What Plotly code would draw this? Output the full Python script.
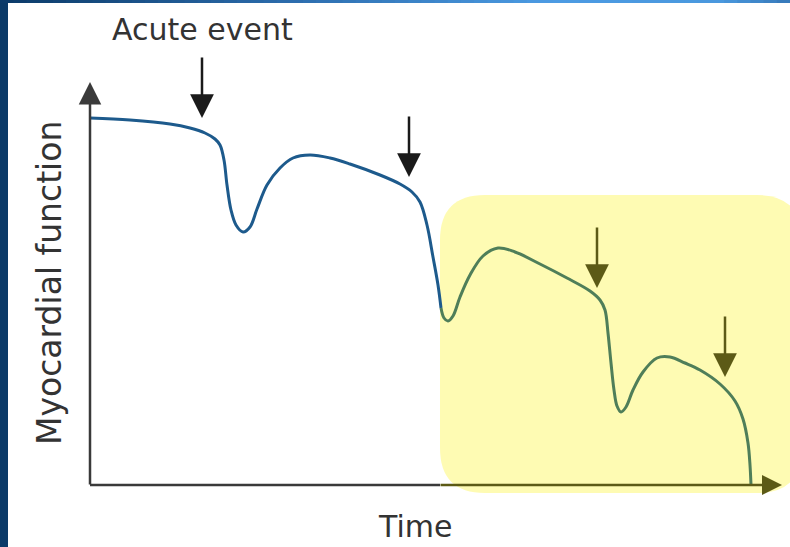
import plotly.graph_objects as go

# ---- data (time units, function units; origin at the axes corner) ----
time = [0, 40, 80, 100, 115, 125, 130, 134, 137, 141, 146, 153, 160, 167, 177, 190,
        203, 220, 240, 260, 290, 310, 322, 330, 337, 343, 348, 351,
        354, 358, 363, 370, 380, 393, 408, 425, 450, 477, 500, 510, 515, 518, 521,
        524, 527, 531, 536, 543, 553, 567, 580, 595, 610, 630, 645, 653, 658, 660, 661]
function = [367, 365, 361, 357, 352, 346, 340, 325, 300, 275, 260, 253, 258, 276, 300, 317,
            327, 330, 327, 321, 310, 301, 293, 283, 260, 228, 200, 177,
            167, 164, 169, 188, 210, 229, 237, 233, 221, 207, 194, 185, 175, 152, 122,
            95, 79, 73, 78, 95, 113, 127, 128, 122, 115, 101, 84, 66, 42, 20, 0]
split_time = 351          # where the highlighted (late) phase begins

event_time = [112, 319, 507, 635]
event_level = [367, 308, 197, 108]
event_labels = ["Acute event", "", "", ""]

x_label = "Time"
y_label = "Myocardial function"

# ---- styling ----
BLUE = "#1d5a8c"
GREEN = "#4f7e59"
AXIS = "#3a3a3a"
OLIVE = "#5c5a16"
YELLOW = "#fefbb3"
TEXT = "#333333"
FONT = "DejaVu Sans, Liberation Sans, Arial, sans-serif"

k = time.index(split_time)
fig = go.Figure()
fig.add_trace(go.Scatter(x=time[:k + 1], y=function[:k + 1], mode="lines",
                         line=dict(color=BLUE, width=3, shape="spline", smoothing=1.0),
                         hoverinfo="skip", showlegend=False))
fig.add_trace(go.Scatter(x=time[k:], y=function[k:], mode="lines",
                         line=dict(color=GREEN, width=3, shape="spline", smoothing=1.0),
                         hoverinfo="skip", showlegend=False))

shapes = []
# highlighted late-phase box (rounded)
x0, x1, y0, y1, r = split_time - 1, 712, -8, 290, 45
path = (f"M{x0+r},{y1} L{x1-r},{y1} Q{x1},{y1} {x1},{y1-r} L{x1},{y0+r} "
        f"Q{x1},{y0} {x1-r},{y0} L{x0+r},{y0} Q{x0},{y0} {x0},{y0+r} "
        f"L{x0},{y1-r} Q{x0},{y1} {x0+r},{y1} Z")
shapes.append(dict(type="path", path=path, xref="x", yref="y", layer="below",
                   fillcolor=YELLOW, line=dict(width=0)))

# frame decorations: left navy band, top gradient band
shapes.append(dict(type="rect", xref="paper", yref="paper", x0=0, x1=8 / 790, y0=0, y1=1,
                   fillcolor="#0b3a68", line=dict(width=0), layer="above"))
stops = [(0, (11, 58, 104)), (300, (45, 110, 175)), (550, (76, 155, 227)),
         (720, (74, 152, 222)), (790, (54, 120, 184))]
nseg = 60
for i in range(nseg):
    xa = 790 * i / nseg
    xb = 790 * (i + 1) / nseg
    xm = (xa + xb) / 2
    for (pa, ca), (pb, cb) in zip(stops[:-1], stops[1:]):
        if pa <= xm <= pb:
            t = (xm - pa) / (pb - pa)
            c = tuple(int(round(ca[j] + (cb[j] - ca[j]) * t)) for j in range(3))
            break
    shapes.append(dict(type="rect", xref="paper", yref="paper", x0=xa / 790, x1=xb / 790 + 0.002,
                       y0=1 - 3 / 547, y1=1, fillcolor=f"rgb{c}", line=dict(width=0), layer="above"))

# x axis baseline (grey part)
shapes.append(dict(type="line", xref="x", yref="y", x0=0, x1=split_time - 1, y0=0, y1=0,
                   line=dict(color=AXIS, width=2.5)))

annotations = []
# y axis with arrow
annotations.append(dict(x=0, y=403, ax=0, ay=-1, axref="x", ayref="y", xref="x", yref="y",
                        showarrow=True, arrowhead=2, arrowsize=1.8, arrowwidth=2.5,
                        arrowcolor=AXIS, text=""))
# x axis (olive part) with arrow
annotations.append(dict(x=692, y=0, ax=split_time - 2, ay=0, axref="x", ayref="y", xref="x", yref="y",
                        showarrow=True, arrowhead=2, arrowsize=1.6, arrowwidth=2.5,
                        arrowcolor=OLIVE, text=""))
# event arrows
for t, lv in zip(event_time, event_level):
    col = "#1a1a1a" if t < split_time else OLIVE
    annotations.append(dict(x=t, y=lv, ax=t, ay=lv + 62, axref="x", ayref="y", xref="x", yref="y",
                            showarrow=True, arrowhead=2, arrowsize=1.9, arrowwidth=2.5,
                            arrowcolor=col, text=""))
for t, lv, lab in zip(event_time, event_level, event_labels):
    if lab:
        annotations.append(dict(x=t, y=456, xref="x", yref="y", text=lab, showarrow=False,
                                font=dict(family=FONT, size=30, color=TEXT)))
annotations.append(dict(x=325, y=-41, xref="x", yref="y", text=x_label, showarrow=False,
                        font=dict(family=FONT, size=30, color=TEXT)))
annotations.append(dict(x=-41, y=202, xref="x", yref="y", text=y_label, showarrow=False,
                        textangle=-90, font=dict(family=FONT, size=33, color=TEXT)))

fig.update_layout(
    width=790, height=547, autosize=False,
    margin=dict(l=0, r=0, t=0, b=0, pad=0),
    paper_bgcolor="white", plot_bgcolor="white",
    xaxis=dict(range=[-90, 700], visible=False, fixedrange=True),
    yaxis=dict(range=[-62, 485], visible=False, fixedrange=True),
    shapes=shapes, annotations=annotations, showlegend=False,
)

fig.write_html("out.html", config={"displayModeBar": False},
               post_script="document.body.style.margin='0';")
